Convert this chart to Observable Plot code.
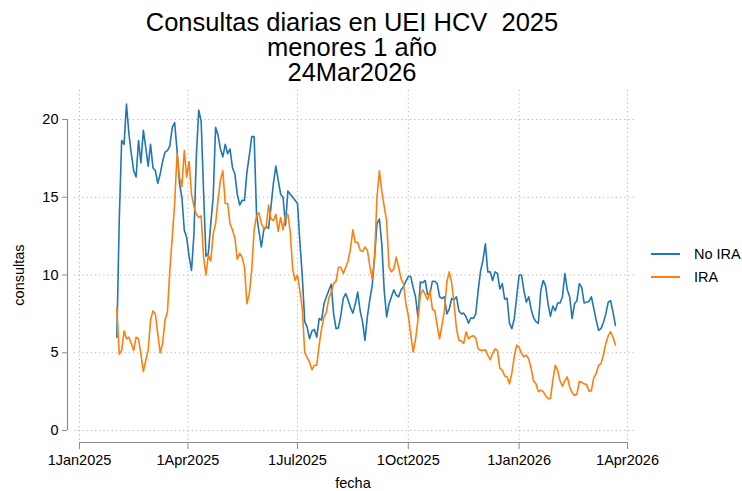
<!DOCTYPE html>
<html>
<head>
<meta charset="utf-8">
<script src="https://cdn.jsdelivr.net/npm/d3@7"></script>
<script src="https://cdn.jsdelivr.net/npm/@observablehq/plot@0.6"></script>
<style>
  body { margin: 0; background: #fff; }
  #wrap { position: relative; width: 742px; height: 491px; overflow: hidden;
          font-family: "Liberation Sans", Arial, Helvetica, sans-serif; color: #000; }
  #chart { position: absolute; left: 0; top: 0; }
  .title { position: absolute; left: 0; top: 10px; width: 704px; text-align: center;
           font-size: 25.5px; line-height: 25px; white-space: pre; }
  .axlab { position: absolute; font-size: 14.5px; line-height: 16px; white-space: nowrap; }
  .leg { position: absolute; left: 651px; height: 18px; font-size: 14.5px; line-height: 18px; white-space: nowrap; }
  .leg .sw { position: absolute; left: 0; top: 8px; width: 29px; height: 2px; }
  .leg .lt { position: absolute; left: 43px; top: 0; }
</style>
</head>
<body>
<div id="wrap">
  <div id="chart"></div>
</div>
<script>
// ---- data ----
const titleLines = ["Consultas diarias en UEI HCV  2025", "menores 1 año", "24Mar2026"];
const xLabel = "fecha";
const yLabel = "consultas";
const seriesNames = ["No IRA", "IRA"];
const seriesColors = ["#1f77b4", "#ff7f0e"];
const startDate = "2025-02-01";   // first plotted day
const stepDays = 2;                 // spacing of the read values
const xTickDates = ["2025-01-01", "2025-04-01", "2025-07-01", "2025-10-01", "2026-01-01", "2026-04-01"];
const yTicks = [0, 5, 10, 15, 20];

const noIRA = [
  6.0,13.5,18.65,18.4,21.0,19.1,17.8,16.7,16.3,18.65,
  17.2,19.3,18.2,17.0,18.4,16.9,16.7,15.9,16.5,17.3,
  17.9,18.0,18.3,19.5,19.8,18.0,15.9,15.0,12.9,12.4,
  11.2,10.3,12.6,17.6,20.6,19.9,15.4,11.2,11.4,13.3,
  15.0,19.5,19.0,18.1,17.6,18.4,17.8,18.1,16.9,16.5,
  15.2,14.5,14.8,14.8,16.6,17.7,18.9,18.9,13.9,12.8,
  11.8,12.9,13.1,13.0,14.4,15.9,17.0,16.1,15.2,15.0,
  13.2,15.4,15.2,15.0,14.8,14.6,12.1,9.9,7.0,6.65,
  5.9,6.4,6.5,6.0,7.2,7.1,8.15,8.6,9.0,9.4,
  7.5,6.55,6.6,7.4,8.5,8.8,8.4,7.9,7.55,8.15,
  8.9,7.7,7.0,5.8,7.3,8.4,9.3,11.15,13.3,13.6,
  12.0,9.0,7.3,8.15,8.6,9.05,8.7,8.6,9.05,9.25,
  9.6,9.9,9.9,9.2,8.6,7.3,9.55,9.5,9.65,8.75,
  8.8,9.6,9.6,9.45,8.6,8.5,8.6,7.5,7.8,8.5,
  8.4,8.6,7.7,7.5,7.55,7.3,6.9,7.25,7.2,7.5,
  9.0,10.25,10.95,12.0,10.2,10.2,9.65,10.2,10.1,9.1,
  9.45,8.45,8.5,6.9,6.55,7.2,8.6,10.0,10.0,9.0,
  8.25,8.6,7.8,7.25,7.0,6.9,9.0,9.65,9.3,8.15,
  7.35,8.0,7.7,8.2,8.2,8.6,10.1,9.05,8.6,7.2,
  8.15,8.35,9.45,9.2,8.2,8.25,8.3,8.6,7.85,7.1,
  6.45,6.55,6.95,7.5,8.25,8.35,7.6,6.75
];

const IRA = [
  7.9,4.9,5.15,6.4,5.9,6.0,5.6,5.15,6.0,5.9,
  4.9,3.8,4.5,5.15,7.1,7.7,7.5,6.2,5.0,5.6,
  7.1,7.6,10.3,12.4,14.6,17.8,16.3,15.7,18.0,16.3,
  17.3,15.2,14.4,13.9,13.7,13.8,11.15,10.0,11.3,10.9,
  12.65,13.3,14.8,16.1,16.7,14.6,14.6,13.3,12.9,12.4,
  11.0,11.4,11.15,10.5,8.15,8.8,10.3,12.9,13.8,14.0,
  13.3,13.0,13.1,14.5,13.6,13.5,13.9,12.8,13.7,12.9,
  13.8,13.9,12.75,10.4,9.65,10.0,9.0,7.8,5.0,4.7,
  4.4,3.9,4.2,4.2,5.5,6.55,7.3,7.6,8.5,8.9,
  9.45,9.6,10.5,10.5,10.1,10.5,10.9,11.7,12.9,12.1,
  12.1,11.6,11.5,11.8,11.6,10.6,9.75,11.15,15.0,16.7,
  15.4,14.4,13.5,10.5,10.2,10.4,11.15,10.5,9.75,9.45,
  8.15,7.4,6.2,5.05,5.85,7.1,8.7,9.05,8.75,8.4,
  9.0,7.8,7.7,6.75,5.9,6.8,7.7,9.55,10.2,9.5,
  8.15,6.55,5.8,5.75,5.6,6.35,5.9,6.05,6.1,5.95,
  5.25,5.15,5.15,5.2,4.85,4.55,4.95,5.25,5.15,4.0,
  3.9,3.5,3.45,3.0,3.7,4.75,5.5,5.35,4.95,4.75,
  4.85,4.6,4.0,3.2,3.0,2.5,2.6,2.5,2.25,2.05,
  2.05,3.2,4.2,3.85,3.2,2.85,3.2,3.45,2.8,2.45,
  2.25,2.35,3.15,3.1,3.0,2.95,2.55,2.55,3.4,3.65,
  4.2,4.3,4.85,5.6,6.1,6.35,6.0,5.5
];

// ---- build table ----
const parse = d3.utcParse("%Y-%m-%d");
const t0 = parse(startDate);
const rows = [];
[noIRA, IRA].forEach((vals, s) => {
  vals.forEach((v, i) => rows.push({ series: seriesNames[s], date: d3.utcDay.offset(t0, i * stepDays), value: v }));
});
const ticksX = xTickDates.map(parse);
const fmt = d3.utcFormat("%-d%b%Y");
const axisGray = "#8c8c8c";
const font = '"Liberation Sans", Arial, Helvetica, sans-serif';

const chart = Plot.plot({
  width: 742,
  height: 491,
  marginLeft: 74,
  marginRight: 106,
  marginTop: 90,
  marginBottom: 49,
  style: { fontFamily: font, fontSize: "14.5px", color: "#000", background: "transparent" },
  x: { type: "utc", domain: [ticksX[0], ticksX[ticksX.length - 1]], range: [79, 627] },
  y: { domain: [0, 20], range: [430, 119] },
  color: { domain: seriesNames, range: seriesColors },
  marks: [
    Plot.gridY(yTicks, { stroke: "#b4b4b4", strokeOpacity: 1, strokeDasharray: "1.2,3" }),
    Plot.gridX(ticksX, { stroke: "#b4b4b4", strokeOpacity: 1, strokeDasharray: "1.2,3" }),
    Plot.ruleY([0], { x1: ticksX[0], x2: ticksX[ticksX.length - 1], dy: 12, stroke: axisGray, strokeWidth: 1.2 }),
    Plot.ruleX([ticksX[0]], { y1: 0, y2: 20, dx: -12, stroke: axisGray, strokeWidth: 1.2 }),
    Plot.axisX(ticksX, { tickSize: 7, tickPadding: 5, tickFormat: fmt, stroke: axisGray, fill: "#000", label: null }),
    Plot.axisY(yTicks, { tickSize: 5, tickPadding: 4, dx: -7, stroke: axisGray, fill: "#000", label: null }),
    Plot.line(rows, { x: "date", y: "value", z: "series", stroke: "series", strokeWidth: 1.6, curve: "linear" })
  ]
});
document.getElementById("chart").appendChild(chart);

// ---- text overlays ----
const wrap = document.getElementById("wrap");
const title = document.createElement("div");
title.className = "title";
title.textContent = titleLines.join("\n");
wrap.appendChild(title);
const xl = document.createElement("div");
xl.className = "axlab";
xl.style.left = "0px"; xl.style.width = "706px"; xl.style.textAlign = "center"; xl.style.top = "475px";
xl.textContent = xLabel;
wrap.appendChild(xl);
const yl = document.createElement("div");
yl.className = "axlab";
yl.style.left = "19px"; yl.style.top = "275px";
yl.style.transform = "translate(-50%,-50%) rotate(-90deg)";
yl.textContent = yLabel;
wrap.appendChild(yl);
seriesNames.forEach((name, i) => {
  const d = document.createElement("div");
  d.className = "leg";
  d.style.top = (245 + i * 23) + "px";
  d.innerHTML = '<span class="sw"></span><span class="lt"></span>';
  d.querySelector(".sw").style.background = seriesColors[i];
  d.querySelector(".lt").textContent = name;
  wrap.appendChild(d);
});
</script>
</body>
</html>
